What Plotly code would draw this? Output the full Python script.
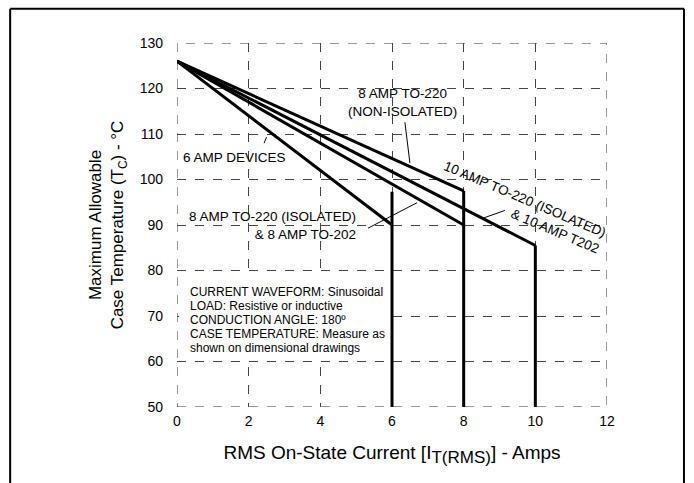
import plotly.graph_objects as go

# Data
start_current = 0
start_temp = 126
devices = ["6 AMP DEVICES", "8 AMP TO-220 (ISOLATED) & 8 AMP TO-202",
           "8 AMP TO-220 (NON-ISOLATED)", "10 AMP TO-220 (ISOLATED) & 10 AMP T202"]
max_current = [6, 8, 8, 10]
temp_at_max = [90, 90, 97.5, 85.5]
cutoff_x = [6, 8, 10]
cutoff_top = [97.3, 97.5, 85.5]
y_floor = 50
x_ticks = [0, 2, 4, 6, 8, 10, 12]
y_ticks = [50, 60, 70, 80, 90, 100, 110, 120, 130]
notes_lines = ["CURRENT WAVEFORM: Sinusoidal", "LOAD: Resistive or inductive",
               "CONDUCTION ANGLE: 180º", "CASE TEMPERATURE: Measure as",
               "shown on dimensional drawings"]

FONT = "Liberation Sans, Arial, sans-serif"
fig = go.Figure()

for name, im, tm in zip(devices, max_current, temp_at_max):
    fig.add_trace(go.Scatter(x=[start_current, im], y=[start_temp, tm], mode="lines",
                             line=dict(color="black", width=3), name=name, showlegend=False))
for cx, ct in zip(cutoff_x, cutoff_top):
    fig.add_trace(go.Scatter(x=[cx, cx], y=[ct, y_floor], mode="lines",
                             line=dict(color="black", width=3), showlegend=False))

# leader lines
leaders = [
    ([6.36, 6.5], [112.6, 103.6]),
    ([2.50, 2.43], [109.3, 108.0]),
    ([5.33, 6.7], [89.3, 94.9]),
    ([8.54, 9.15], [91.5, 93.2]),
]
for lx, ly in leaders:
    fig.add_trace(go.Scatter(x=lx, y=ly, mode="lines", line=dict(color="black", width=1),
                             showlegend=False))

ann_font = dict(family=FONT, size=13.5, color="black")
fig.add_annotation(x=6.28, y=116.9, text="8 AMP TO-220<br>(NON-ISOLATED)", showarrow=False,
                   font=ann_font, align="center")
fig.add_annotation(x=0.12, y=104.9, text="6 AMP DEVICES", showarrow=False,
                   font=ann_font, xanchor="left")
fig.add_annotation(x=5.06, y=90.0, text="8 AMP TO-220 (ISOLATED)<br>& 8 AMP TO-202", showarrow=False,
                   font=ann_font, xanchor="right", align="right")
fig.add_annotation(x=9.6, y=93.8, text="10 AMP TO-220 (ISOLATED)<br>&amp; 10 AMP T202", showarrow=False,
                   font=ann_font, textangle=23, align="right")

# notes box (white background hides grid)
fig.add_shape(type="rect", xref="x", yref="y", x0=0.06, x1=5.9, y0=60.4, y1=79.6,
              line=dict(width=0), fillcolor="white", layer="between")
for i, line in enumerate(notes_lines):
    fig.add_annotation(x=0.3, y=69.1 + (2 - i) * 3.05, text=line, showarrow=False,
                       font=dict(family=FONT, size=12, color="black"), xanchor="left")

# dashed plot border
fig.add_shape(type="rect", xref="x", yref="y", x0=0, x1=12, y0=50, y1=130,
              line=dict(color="#333", width=1, dash="dash"), layer="below")

# outer frame
for x0, y0, x1, y1 in [(-0.388, 1.094, 1.179, 1.094), (-0.388, 1.094, -0.388, -0.21),
                       (1.179, 1.094, 1.179, -0.21)]:
    fig.add_shape(type="line", xref="paper", yref="paper", x0=x0, y0=y0, x1=x1, y1=y1,
                  line=dict(color="black", width=2))

fig.update_xaxes(range=[0, 12], tickvals=x_ticks, showgrid=True, gridcolor="#444",
                 griddash="dash", gridwidth=1, zeroline=False, showline=False, ticks="",
                 ticklabelstandoff=4,
                 tickfont=dict(family=FONT, size=14, color="black"),
                 title=dict(text='RMS On-State Current [I<sub><span style="font-size:17px">T(RMS)</span></sub>] - Amps',
                            font=dict(family=FONT, size=19, color="black"), standoff=17))
fig.update_yaxes(range=[50, 130], tickvals=y_ticks, showgrid=True, gridcolor="#444",
                 griddash="dash", gridwidth=1, zeroline=False, showline=False, ticks="",
                 ticklabelstandoff=13,
                 tickfont=dict(family=FONT, size=14, color="black"),
                 title=dict(text="Maximum Allowable<br>Case Temperature (T<sub>C</sub>) - °C",
                            font=dict(family=FONT, size=17, color="black"), standoff=11))
fig.update_layout(width=694, height=483, margin=dict(l=177, r=87, t=43, b=76),
                  plot_bgcolor="white", paper_bgcolor="white", showlegend=False)

fig.write_html("out.html")
